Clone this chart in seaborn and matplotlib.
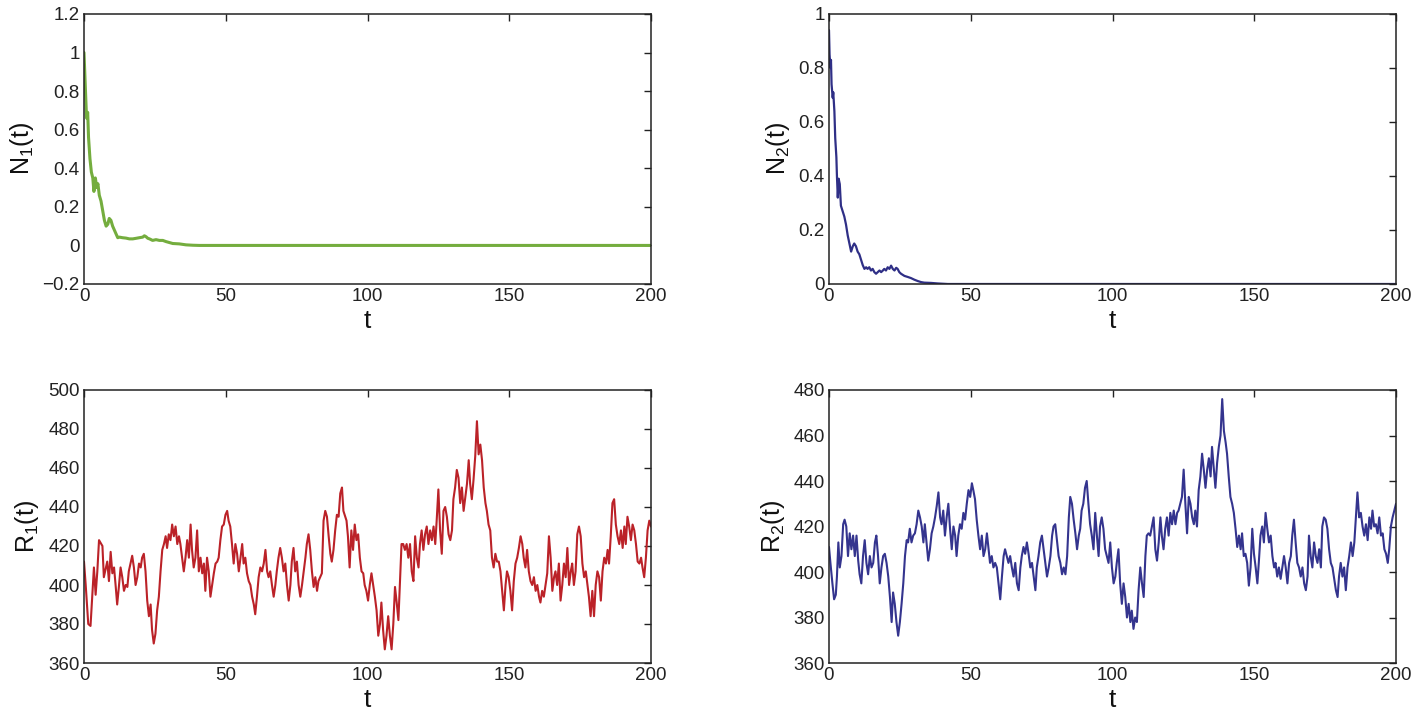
import matplotlib
matplotlib.use("Agg")
import matplotlib.pyplot as plt
import seaborn as sns
from matplotlib.ticker import FuncFormatter, FixedLocator

# ---------------- data ----------------
t_n1 = [0, 0.5, 0.9, 1.3, 1.6, 2.1, 2.6, 3.1, 3.5, 4.0, 4.5, 4.9, 5.4, 6.0, 6.6, 7.2, 7.8, 8.4,
        8.9, 9.5, 10.1, 10.7, 11.3, 11.9, 12.5, 13.6, 14.8, 16.0, 17.2, 18.4, 19.5, 20.7, 21.3,
        21.9, 22.5, 23.1, 24.2, 25.4, 26.6, 27.8, 28.9, 31.3, 33.6, 36.0, 38.4, 40.7, 200]
n1 = [1.0, 0.81, 0.66, 0.69, 0.56, 0.45, 0.38, 0.35, 0.28, 0.35, 0.30, 0.32, 0.26, 0.23, 0.18,
      0.13, 0.10, 0.11, 0.14, 0.13, 0.10, 0.08, 0.06, 0.04, 0.043, 0.04, 0.038, 0.034, 0.034,
      0.037, 0.04, 0.043, 0.05, 0.045, 0.037, 0.034, 0.026, 0.03, 0.026, 0.026, 0.02, 0.01,
      0.008, 0.003, 0.001, 0.0, 0.0]

t_n2 = [0, 0.2, 0.5, 0.7, 0.9, 1.3, 1.5, 1.9, 2.2, 2.6, 2.8, 3.1, 3.4, 3.8, 4.2, 4.8, 5.4, 6.0,
        6.6, 7.2, 7.8, 8.4, 8.9, 9.5, 10.1, 10.7, 11.3, 11.9, 12.5, 13.1, 13.6, 14.2, 14.8, 15.4,
        16.0, 16.6, 17.2, 17.8, 18.4, 19.0, 19.5, 20.1, 20.7, 21.3, 21.9, 22.5, 23.1, 23.7, 24.2,
        24.8, 25.4, 26.6, 27.8, 28.9, 30.1, 31.3, 32.5, 33.6, 36.0, 38.4, 41.9, 200]
n2 = [0.94, 0.85, 0.80, 0.83, 0.74, 0.69, 0.71, 0.64, 0.54, 0.47, 0.40, 0.32, 0.39, 0.37, 0.29,
      0.27, 0.25, 0.22, 0.18, 0.15, 0.12, 0.14, 0.15, 0.14, 0.12, 0.11, 0.09, 0.07, 0.056, 0.062,
      0.056, 0.062, 0.05, 0.056, 0.044, 0.038, 0.044, 0.05, 0.044, 0.05, 0.056, 0.05, 0.062,
      0.056, 0.068, 0.056, 0.05, 0.06, 0.056, 0.044, 0.038, 0.03, 0.026, 0.022, 0.016, 0.011,
      0.007, 0.005, 0.004, 0.002, 0.0, 0.0]

t_r1 = [0, 0.6, 1.5, 2.3, 3.5, 4.1, 4.7, 5.3, 6.5, 7.0, 8.2, 8.8, 9.4, 10.0, 10.6, 11.2, 11.7,
        12.3, 12.9, 13.5, 14.1, 14.7, 15.3, 15.8, 16.4, 17.0, 17.6, 18.2, 18.8, 19.4, 20.0, 20.5,
        21.1, 21.7, 22.3, 22.9, 23.5, 24.0, 24.6, 25.2, 25.8, 26.4, 27.0, 27.6, 28.2, 28.8, 29.3,
        29.9, 30.5, 31.1, 31.7, 32.3, 32.9, 33.5, 34.0, 34.6, 35.2, 35.8, 36.4, 37.0, 37.6, 38.1,
        38.7, 39.3, 39.9, 40.5, 41.1, 41.7, 42.3, 42.8, 43.4, 44.0, 44.6, 45.2, 45.8, 46.4, 47.0,
        47.5, 48.1, 48.7, 49.3, 49.9, 50.5, 51.0, 51.6, 52.2, 52.8, 53.4, 54.0, 54.6, 55.2, 55.8,
        56.3, 56.9, 57.5, 58.1, 58.7, 59.3, 59.9, 60.4, 61.0, 61.6, 62.2, 62.8, 63.4, 64.0, 64.6,
        65.1, 65.7, 66.3, 66.9, 67.5, 68.0, 68.6, 69.2, 69.8, 70.4, 71.0, 71.6, 72.2, 72.8, 73.3,
        73.9, 74.5, 75.1, 75.7, 76.3, 76.9, 77.5, 78.1, 78.6, 79.2, 79.8, 80.4, 81.0, 81.6, 82.2,
        82.7, 83.3, 83.9, 84.5, 85.1, 85.7, 86.3, 86.9, 87.4, 88.0, 88.6, 89.2, 89.8, 90.4, 91.0,
        91.5, 92.6, 93.1, 93.7, 94.3, 94.9, 95.5, 96.1, 96.7, 97.3, 97.9, 98.5, 99.0, 99.6, 100.2,
        100.8, 101.4, 102.0, 102.6, 103.2, 103.8, 104.4, 104.9, 105.5, 106.1, 106.7, 107.3, 107.9,
        108.5, 109.1, 109.7, 110.3, 110.9, 111.5, 112.0, 112.6, 113.2, 113.8, 114.4, 115.0, 115.6,
        116.2, 116.8, 117.4, 118.0, 118.5, 119.1, 119.7, 120.3, 120.9, 121.5, 122.1, 122.7, 123.3,
        123.9, 124.4, 125.0, 125.6, 126.2, 126.8, 127.4, 128.0, 128.6, 129.2, 129.8, 130.3, 130.9,
        131.5, 132.1, 132.7, 133.3, 133.9, 134.5, 135.1, 135.7, 136.2, 136.8, 137.4, 138.0, 138.6,
        139.2, 139.8, 140.4, 141.0, 141.6, 142.1, 142.7, 143.3, 143.9, 144.5, 145.1, 145.7, 146.3,
        146.9, 147.5, 148.1, 148.7, 149.2, 149.8, 150.4, 151.0, 151.6, 152.2, 152.8, 153.4, 154.0,
        154.6, 155.1, 155.7, 156.3, 156.9, 157.5, 158.1, 158.7, 159.3, 159.9, 160.5, 161.0, 161.6,
        162.2, 162.8, 163.4, 164.0, 164.6, 165.2, 165.8, 166.3, 166.9, 167.5, 168.1, 168.7, 169.3,
        169.9, 170.5, 171.1, 171.7, 172.2, 172.8, 173.4, 174.0, 174.6, 175.2, 175.8, 176.4, 177.0,
        177.6, 178.1, 178.7, 179.3, 179.9, 180.5, 181.1, 181.7, 182.3, 182.9, 183.5, 184.1, 184.7,
        185.2, 185.8, 186.4, 187.0, 187.6, 188.2, 188.8, 189.4, 190.0, 190.6, 191.1, 191.7, 192.3,
        192.9, 193.5, 194.1, 194.7, 195.3, 195.9, 196.5, 197.0, 197.6, 198.2, 198.8, 199.4, 200.0]
r1 = [412, 400, 380, 379, 409, 395, 407, 423, 420, 404, 412, 402, 417, 406, 409, 399, 390,
      399, 409, 404, 397, 400, 399, 407, 411, 415, 409, 400, 404, 411, 409, 414,
      416, 407, 392, 384, 390, 377, 370, 375, 387, 394, 407, 418, 421, 425, 419,
      426, 423, 431, 425, 430, 421, 425, 421, 414, 407, 414, 423, 414, 431, 418,
      409, 414, 428, 407, 414, 406, 411, 397, 414, 407, 394, 400, 406, 411, 412,
      414, 423, 430, 431, 436, 438, 433, 430, 421, 411, 421, 416, 407, 414, 421,
      411, 414, 406, 402, 400, 394, 390, 385, 394, 404, 409, 407, 411, 418, 407,
      404, 407, 400, 394, 400, 407, 414, 419, 414, 407, 411, 400, 392, 400, 412,
      419, 407, 412, 400, 394, 400, 407, 414, 421, 426, 418, 407, 399, 404, 397,
      402, 404, 406, 433, 438, 435, 425, 416, 412, 418, 428, 436, 435, 447, 450,
      438, 433, 425, 409, 428, 418, 431, 423, 426, 414, 407, 406, 400, 397, 392,
      400, 406, 400, 394, 387, 374, 380, 391, 377, 367, 374, 384, 374,
      367, 380, 399, 391, 382, 404, 421, 421, 418, 421, 414, 421, 407,
      402, 425, 414, 409, 421, 428, 418, 426, 430, 421, 428, 423, 430,
      421, 433, 449, 428, 416, 438, 440, 435, 426, 423, 428, 444, 450,
      459, 455, 442, 450, 438, 445, 452, 464, 452, 444, 454, 466, 484,
      467, 472, 464, 450, 442, 438, 431, 428, 414, 409, 416, 412, 412,
      407, 397, 387, 400, 407, 404, 397, 387, 402, 411, 414, 419, 425,
      421, 414, 409, 418, 407, 402, 400, 404, 397, 400, 394, 391, 397,
      394, 400, 406, 425, 414, 397, 404, 407, 400, 411, 392, 400, 411,
      404, 419, 400, 407, 411, 400, 407, 426, 430, 425, 411, 404, 407,
      400, 394, 384, 397, 384, 400, 407, 404, 392, 407, 414, 411, 418,
      411, 425, 442, 444, 431, 425, 421, 428, 419, 430, 421, 435, 430,
      423, 431, 428, 421, 412, 411, 414, 409, 404, 414, 428, 433, 430]

t_r2 = [0, 0.5, 1.2, 1.8, 2.4, 2.8, 3.3, 3.8, 4.4, 5.0, 5.5, 6.1, 6.7, 7.3, 7.9, 8.5, 9.1, 9.7,
        10.3, 10.8, 11.4, 12.0, 12.6, 13.2, 13.8, 14.4, 15.0, 15.6, 16.2, 16.7, 17.3, 17.9, 18.5,
        19.1, 19.7, 20.3, 20.9, 21.5, 22.1, 22.6, 23.2, 23.8, 24.4, 25.0, 25.6, 26.2, 26.8, 27.4,
        27.9, 28.5, 29.1, 29.7, 30.3, 30.9, 31.5, 32.1, 32.7, 33.3, 33.8, 34.4, 35.0, 35.6, 36.2,
        36.8, 37.4, 38.0, 38.6, 39.2, 39.7, 40.3, 40.9, 41.5, 42.1, 42.7, 43.3, 43.9, 44.5, 45.0,
        45.6, 46.2, 46.8, 47.4, 48.0, 48.6, 49.2, 49.8, 50.4, 50.9, 51.5, 52.1, 52.7, 53.3, 53.9,
        54.5, 55.1, 55.7, 56.3, 56.8, 57.4, 58.0, 58.6, 59.2, 59.8, 60.4, 61.0, 61.6, 62.1, 62.7,
        63.3, 63.9, 64.5, 65.1, 65.7, 66.3, 66.9, 67.5, 68.0, 68.6, 69.2, 69.8, 70.4, 71.0, 71.6,
        72.2, 72.8, 73.3, 73.9, 74.5, 75.1, 75.7, 76.3, 76.9, 77.5, 78.1, 78.7, 79.2, 79.8, 80.4,
        81.0, 81.6, 82.2, 82.8, 83.4, 84.0, 84.6, 85.1, 85.7, 86.3, 86.9, 87.5, 88.1, 88.6, 89.1,
        89.7, 90.3, 90.9, 91.5, 92.1, 92.7, 93.3, 93.9, 94.5, 95.1, 95.6, 96.2, 96.8, 97.4, 98.0,
        98.6, 99.2, 99.8, 100.4, 101.0, 101.5, 102.1, 102.7, 103.3, 103.9, 104.5, 105.1, 105.7,
        106.3, 106.8, 107.4, 108.0, 108.6, 109.2, 109.8, 110.4, 111.0, 111.6, 112.1, 112.7, 113.3,
        113.9, 114.5, 115.1, 115.7, 116.3, 116.9, 117.4, 118.0, 118.6, 119.2, 119.8, 120.4, 121.0,
        121.6, 122.2, 122.8, 123.3, 123.9, 124.5, 125.1, 125.7, 126.3, 126.9, 127.5, 128.1, 128.7,
        129.2, 129.8, 130.4, 131.0, 131.6, 132.2, 132.8, 133.4, 134.0, 134.6, 135.1, 135.7, 136.3,
        136.9, 137.5, 138.1, 138.7, 139.3, 139.9, 140.4, 141.0, 141.6, 142.2, 142.8, 143.4, 144.0,
        144.6, 145.2, 145.7, 146.3, 146.9, 147.5, 148.1, 148.7, 149.3, 149.9, 150.5, 151.1, 151.6,
        152.2, 152.8, 153.4, 154.0, 154.6, 155.2, 155.8, 156.4, 157.0, 157.5, 158.1, 158.7, 159.3,
        159.9, 160.5, 161.1, 161.7, 162.3, 162.9, 163.4, 164.0, 164.6, 165.2, 165.8, 166.4, 167.0,
        167.6, 168.2, 168.8, 169.3, 169.9, 170.5, 171.1, 171.7, 172.3, 172.9, 173.5, 174.0, 174.6,
        175.2, 175.8, 176.4, 177.0, 177.6, 178.2, 178.8, 179.4, 179.9, 180.5, 181.1, 181.7, 182.3,
        182.9, 183.5, 184.1, 184.7, 185.3, 185.8, 186.4, 187.0, 187.6, 188.2, 188.8, 189.4, 190.0,
        190.6, 191.2, 191.7, 192.3, 192.9, 193.5, 194.1, 194.7, 195.3, 195.9, 196.5, 197.1, 197.6,
        198.2, 198.8, 199.4, 200.0]
r2 = [411, 404, 395, 388, 390, 398, 413, 402, 407, 421, 423, 420, 407, 417, 410, 416, 407, 416,
      405, 399, 395, 407, 414, 404, 399, 407, 402, 404, 413, 416, 407, 395, 402,
      407, 408, 404, 398, 389, 378, 391, 386, 378, 372, 378, 386, 395, 407, 414,
      413, 419, 413, 416, 417, 421, 427, 424, 420, 413, 421, 413, 405, 410, 417,
      420, 424, 429, 435, 424, 421, 427, 416, 424, 430, 419, 410, 420, 416, 407,
      416, 421, 419, 426, 423, 430, 436, 433, 439, 436, 432, 423, 416, 410, 416,
      407, 410, 417, 410, 404, 407, 402, 404, 402, 395, 388, 398, 407, 410, 407,
      404, 407, 402, 398, 404, 395, 392, 402, 407, 411, 408, 413, 408, 402, 404,
      398, 392, 402, 407, 413, 416, 410, 404, 398, 402, 407, 416, 420, 421, 414,
      407, 404, 399, 402, 399, 407, 424, 433, 430, 423, 417, 410, 416, 419, 427,
      430, 437, 440, 430, 421, 416, 410, 426, 416, 407, 420, 424, 419, 410, 407,
      404, 413, 402, 395, 398, 404, 410, 395, 386, 395, 389, 380, 386,
      378, 383, 375, 380, 378, 392, 402, 395, 389, 407, 416, 417, 416,
      420, 424, 410, 405, 413, 424, 416, 410, 419, 424, 416, 426, 421,
      427, 421, 426, 427, 430, 433, 445, 430, 417, 433, 430, 424, 421,
      427, 420, 436, 442, 452, 445, 437, 445, 450, 442, 455, 446, 437,
      448, 455, 460, 476, 462, 457, 452, 442, 433, 430, 426, 419, 411,
      416, 410, 417, 407, 408, 404, 394, 402, 419, 408, 402, 395, 404,
      416, 420, 413, 426, 419, 413, 416, 407, 402, 404, 398, 402, 397,
      402, 407, 402, 395, 404, 407, 416, 423, 413, 404, 402, 398, 402,
      395, 392, 398, 416, 407, 402, 413, 407, 404, 410, 402, 420, 424,
      423, 419, 410, 404, 402, 397, 392, 389, 398, 404, 398, 402, 392,
      402, 407, 413, 407, 413, 423, 435, 424, 426, 420, 416, 421, 414,
      424, 419, 427, 420, 421, 417, 424, 416, 417, 410, 408, 404, 410,
      420, 424, 427, 430]

x_ticks = [0, 50, 100, 150, 200]
n1_ticks = [-0.2, 0, 0.2, 0.4, 0.6, 0.8, 1.0, 1.2]
n2_ticks = [0, 0.2, 0.4, 0.6, 0.8, 1.0]
r1_ticks = [360, 380, 400, 420, 440, 460, 480, 500]
r2_ticks = [360, 380, 400, 420, 440, 460, 480]

# ---------------- style ----------------
sns.set_theme(style="white")
plt.rcParams['font.family'] = ['Liberation Sans', 'DejaVu Sans']
plt.rcParams['axes.unicode_minus'] = True
plt.rcParams['mathtext.default'] = 'regular'

fig = plt.figure(figsize=(14.15, 7.15), dpi=100)
W, H = 1415, 715
def axes_px(x0, y0, x1, y1):
    return fig.add_axes([x0 / W, 1 - y1 / H, (x1 - x0) / W, (y1 - y0) / H])

ax1 = axes_px(84, 14, 651, 284)
ax2 = axes_px(829, 14, 1396, 284)
ax3 = axes_px(84, 390, 651, 663)
ax4 = axes_px(829, 390, 1396, 663)

sns.lineplot(x=t_n1, y=n1, ax=ax1, color='#74ad3e', linewidth=2.2, estimator=None, sort=False)
sns.lineplot(x=t_n2, y=n2, ax=ax2, color='#2f2f86', linewidth=1.6, estimator=None, sort=False)
sns.lineplot(x=t_r1, y=r1, ax=ax3, color='#bb2228', linewidth=1.5, estimator=None, sort=False)
sns.lineplot(x=t_r2, y=r2, ax=ax4, color='#34348e', linewidth=1.5, estimator=None, sort=False)

fmt = FuncFormatter(lambda v, p: ('%g' % round(v, 6)).replace('-', '\u2212'))
specs = [(ax1, n1_ticks, (-0.2, 1.2), r'N$_1$(t)'),
         (ax2, n2_ticks, (0, 1.0), r'N$_2$(t)'),
         (ax3, r1_ticks, (360, 500), r'R$_1$(t)'),
         (ax4, r2_ticks, (360, 480), r'R$_2$(t)')]
for ax, yt, ylim, lab in specs:
    ax.set_xlim(0, 200)
    ax.set_ylim(*ylim)
    ax.xaxis.set_major_locator(FixedLocator(x_ticks))
    ax.yaxis.set_major_locator(FixedLocator(yt))
    ax.xaxis.set_major_formatter(fmt)
    ax.yaxis.set_major_formatter(fmt)
    ax.tick_params(direction='in', length=5, width=1, top=True, right=True,
                   labelsize=13.5, colors='#222222', pad=3)
    for s in ax.spines.values():
        s.set_color('#222222')
        s.set_linewidth(1.1)
    ax.set_xlabel('t', fontsize=19, labelpad=3, color='#111111')
    ax.set_ylabel(lab, fontsize=18, labelpad=5, color='#111111')

fig.savefig('out.png', dpi=100)
